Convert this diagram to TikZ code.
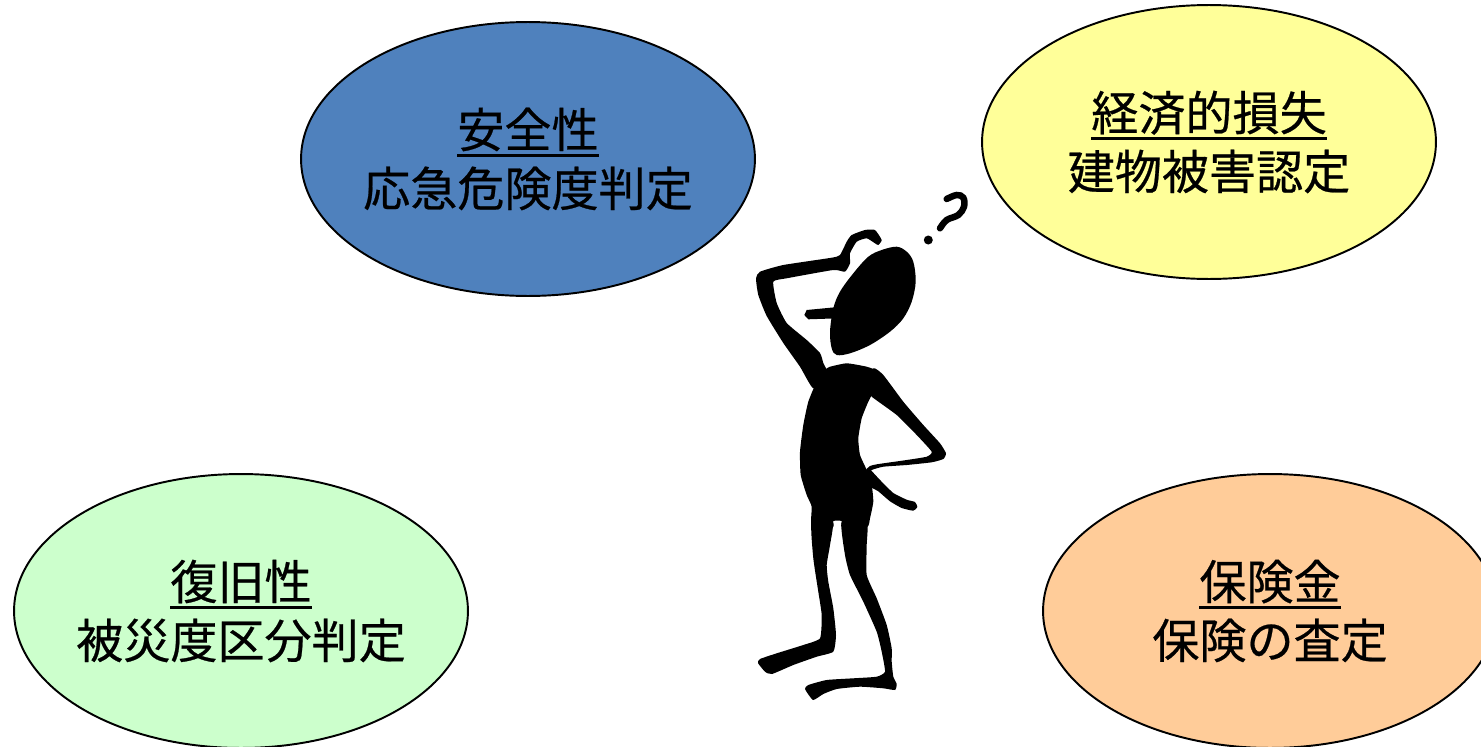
\documentclass[tikz,border=0pt]{standalone}
\usepackage{fontspec}
\setmainfont{Noto Sans CJK JP}[FakeBold=0.5]
\usepackage{tikz}
\usetikzlibrary{shapes.geometric}
\definecolor{SafeBlue}{RGB}{79,129,189}
\definecolor{LossYellow}{RGB}{255,255,153}
\definecolor{RecovGreen}{RGB}{204,255,204}
\definecolor{PayOrange}{RGB}{255,204,153}
\tikzstyle{bubble} = [ellipse,draw=black,line width=1.1pt,minimum width=9.08cm,minimum height=5.48cm,inner sep=-12pt,align=center,font=\fontsize{26.8pt}{33.5pt}\selectfont]
\tikzstyle{ink} = [fill=black]
\newcommand{\ulword}[1]{\setbox0\hbox{#1}\rlap{\rule[-5.5pt]{\wd0}{1.7pt}}\box0}

\begin{document}
\begin{tikzpicture}[x=0.02cm,y=-0.02cm]
      \useasboundingbox (0,0) rectangle (1481,747);
      \node[bubble,fill=SafeBlue](safety) at (528,159){\ulword{安全性}\\応急危険度判定};
      \node[bubble,fill=LossYellow](econ) at (1209,142){\ulword{経済的損失}\\建物被害認定};
      \node[bubble,fill=RecovGreen](recov) at (241,611){\ulword{復旧性}\\被災度区分判定};
      \node[bubble,fill=PayOrange](insur) at (1270,611){\ulword{保険金}\\保険の査定};
      % thinking man
      \draw[line width=0.13cm,line cap=round]plot[smooth,tension=.6]coordinates{(946.7,199)(956.7,195)(963.3,197.7)(964,206.7)(958.3,215)(946.7,220)(940,228.3)};
      \fill(928.3,240)circle(4.5);
      \fill[ink]plot[smooth cycle,tension=.55]coordinates{(881.7,250)(896.7,246.7)(906.7,251.7)(913.3,261.7)(915.7,281.7)(911.7,301.7)(903.3,318.3)(890,331.7)(870,345)(850,353.3)(836.7,355)(831.7,348.3)(830,331.7)(833.3,308.3)(840,291.7)(853.3,273.3)(868.3,256.7)};
      \fill[ink](806.7,310)--(838,307)--(838,318.3)--(808.3,319.3)--(804.3,315)--cycle;
      \fill[ink]plot[smooth cycle,tension=.3]coordinates{(878.3,245)(881.7,240)(875,230)(865,230)(851.7,235)(846.7,241.7)(840,255)(831.7,257.7)(783.3,265)(760,271.7)(756,278.3)(758.3,295)(766.7,316)(783.3,343)(800,366.7)(813.3,388.3)(826.7,372)(823.3,363)(820,353)(806.7,340)(786.7,323)(776.7,303)(773.3,281.7)(786.7,278.3)(833.3,270)(845,271.7)(850,263.3)(850,253.3)(856.7,241.7)(866.7,238.3)(875,243.3)};
      \fill[ink]plot[smooth cycle,tension=.3]coordinates{(830,366.7)(826.7,368.3)(816.7,381.7)(808.3,401.7)(803.3,425)(800,451.7)(800.7,475)(806.7,495)(811.7,506.7)(811.7,527)(833,527)(833.3,521)(841.7,521)(842,527)(867,527)(870,518.3)(873.3,501.7)(871.7,485)(866.7,470)(860,455)(858.3,438.3)(861.7,418.3)(868.3,401.7)(876.7,385)(878.3,371.7)(866.7,366.7)(846.7,363.3)};
      \fill[ink]plot[smooth cycle,tension=.3]coordinates{(873.3,368.3)(883.3,375)(903.3,401.7)(923.3,425)(940,443.3)(946,453.3)(943.3,459)(931.7,462.3)(906.7,465)(883.3,466.7)(871.7,470)(868.3,475)(866,470)(870,466)(876.7,464.3)(906.7,460)(926.7,456.7)(931.7,451.7)(916.7,435)(896.7,415)(871.7,396.7)(868,390)};
      \fill[ink]plot[smooth cycle,tension=.3]coordinates{(868,468)(880,480)(893.3,493)(906.7,499.7)(915,502)(917.3,507)(913.3,510.7)(901.7,508)(890,501.3)(878.3,491.3)(868,485)};
      \fill[ink]plot[smooth cycle,tension=.3]coordinates{(811.7,522)(813.3,558.3)(818.3,591.7)(821.7,615)(820,638.3)(803.3,645)(776.7,653.3)(760,659)(758,663)(765,671.7)(772,674)(793.3,665)(816.7,656.7)(833.3,651.7)(836,635)(833.3,608.3)(828.3,581.7)(826.7,565)(830,545)(832.7,522)};
      \fill[ink]plot[smooth cycle,tension=.3]coordinates{(841.7,522)(845,555)(850,575)(863.3,601.7)(876.7,631.7)(881.7,651.7)(885,671.7)(876.7,676.7)(853.3,678.3)(826.7,680)(808.3,685)(805,689)(813,700)(823.3,694)(836.7,689)(860,686.7)(883.3,688.3)(895,690)(896.7,684)(893.3,676.7)(891.7,661.7)(891.7,648.3)(886.7,625)(876.7,598.3)(866.7,575)(866.7,545)(866.7,522)};
\end{tikzpicture}
\end{document}
